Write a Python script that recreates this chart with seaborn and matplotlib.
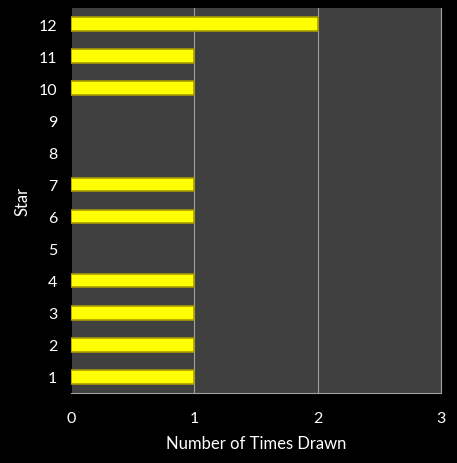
import matplotlib
matplotlib.use('Agg')
import matplotlib.pyplot as plt
import seaborn as sns
import pandas as pd

# Data
stars = [1, 2, 3, 4, 5, 6, 7, 8, 9, 10, 11, 12]
times_drawn = [1, 1, 1, 1, 0, 1, 1, 0, 0, 1, 1, 2]

df = pd.DataFrame({'star': stars, 'times': times_drawn})

sns.set_style('dark')
plt.rcParams['font.family'] = ['Lato', 'DejaVu Sans']

fig = plt.figure(figsize=(4.57, 4.64), dpi=100, facecolor='black')
ax = fig.add_axes([71 / 457, 1 - 394 / 464, 370 / 457, 385 / 464])
ax.set_facecolor('#404040')

sns.barplot(data=df, x='times', y='star', orient='h', native_scale=True,
            color='#ffff00', edgecolor='#a89c00', linewidth=1.2, width=0.42,
            saturation=1, ax=ax, zorder=3)

# no outline for empty bars
for p in ax.patches:
    if p.get_width() == 0:
        p.set_visible(False)

ax.set_xlim(0, 3)
ax.set_ylim(0.5, 12.5)
ax.set_xticks([0, 1, 2, 3])
ax.set_yticks(stars)
ax.set_yticklabels([str(s) for s in stars])
ax.grid(axis='x', color='#a0a0a0', linewidth=0.8, zorder=0)
ax.grid(axis='y', visible=False)
ax.set_axisbelow(True)

ax.spines['top'].set_visible(False)
ax.spines['left'].set_color('black')
ax.spines['bottom'].set_color('#a0a0a0')
ax.spines['right'].set_color('#a0a0a0')

ax.tick_params(colors='white', labelsize=11.5, length=0)
ax.tick_params(axis='x', pad=13)
ax.tick_params(axis='y', pad=10)
ax.set_xlabel('Number of Times Drawn', color='white', fontsize=12, labelpad=7)
ax.set_ylabel('Star', color='white', fontsize=12, labelpad=6)

fig.savefig('out.png', dpi=100, facecolor='black')
